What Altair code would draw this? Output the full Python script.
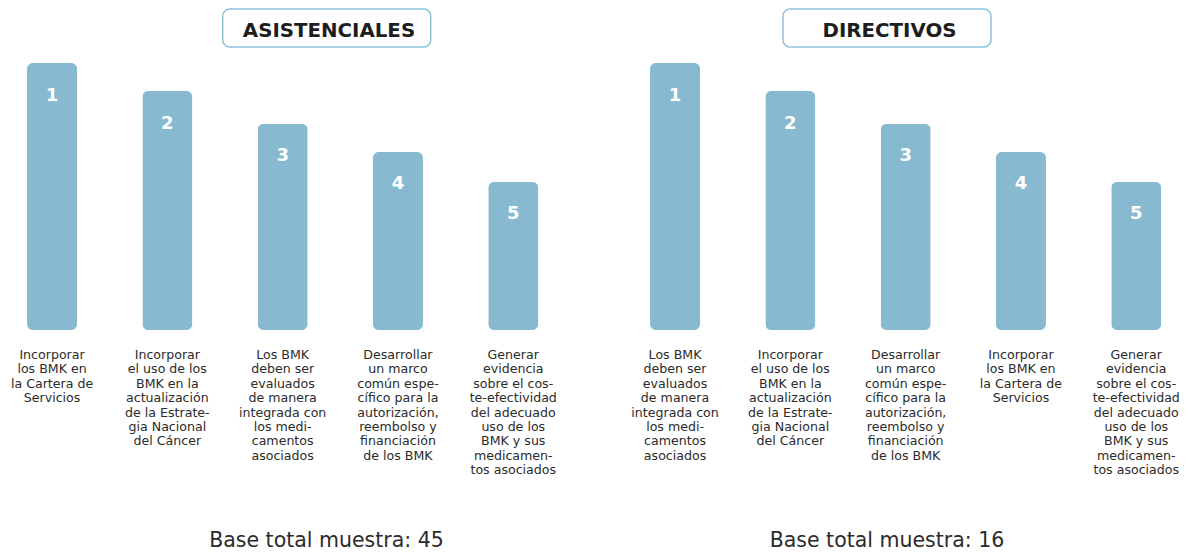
import altair as alt
import pandas as pd

# ---- data ----
ranks = ["1", "2", "3", "4", "5"]
values = [82.9, 74.2, 64.0, 55.3, 46.0]

asist_labels = [
    "Incorporar\nlos BMK en\nla Cartera de\nServicios",
    "Incorporar\nel uso de los\nBMK en la\nactualización\nde la Estrate-\ngia Nacional\ndel Cáncer",
    "Los BMK\ndeben ser\nevaluados\nde manera\nintegrada con\nlos medi-\ncamentos\nasociados",
    "Desarrollar\nun marco\ncomún espe-\ncífico para la\nautorización,\nreembolso y\nfinanciación\nde los BMK",
    "Generar\nevidencia\nsobre el cos-\nte-efectividad\ndel adecuado\nuso de los\nBMK y sus\nmedicamen-\ntos asociados",
]
direct_labels = [
    "Los BMK\ndeben ser\nevaluados\nde manera\nintegrada con\nlos medi-\ncamentos\nasociados",
    "Incorporar\nel uso de los\nBMK en la\nactualización\nde la Estrate-\ngia Nacional\ndel Cáncer",
    "Desarrollar\nun marco\ncomún espe-\ncífico para la\nautorización,\nreembolso y\nfinanciación\nde los BMK",
    "Incorporar\nlos BMK en\nla Cartera de\nServicios",
    "Generar\nevidencia\nsobre el cos-\nte-efectividad\ndel adecuado\nuso de los\nBMK y sus\nmedicamen-\ntos asociados",
]
titles = ["ASISTENCIALES", "DIRECTIVOS"]
base_n = [45, 16]

BAR = "#87B9D1"
BOX = "#8EC1DA"
TXT = "#2b2b2b"
FONT = "DejaVu Sans"
W = 549.3
H = 322


def panel(labels, title, n, box_x1, box_x2, title_cx, foot_cx):
    df = pd.DataFrame({"rank": ranks, "value": values, "label": labels})
    x = alt.X("rank:O", axis=None, sort=ranks,
              scale=alt.Scale(paddingInner=0.566, paddingOuter=0.165))
    y = alt.Y("value:Q", axis=None, scale=alt.Scale(domain=[0, 100], nice=False))
    base = alt.Chart(df)
    bars = base.mark_bar(color=BAR, cornerRadius=6).encode(x=x, y=y)
    nums = base.mark_text(color="white", fontSize=18, fontWeight="bold", font=FONT,
                          baseline="middle", dy=32.5).encode(x=x, y=y, text="rank:N")
    labs = base.mark_text(color=TXT, fontSize=12.6, font=FONT, baseline="top", align="center",
                          lineBreak="\n", lineHeight=14.4, dy=19).encode(
        x=x, y=alt.datum(0), text="label:N")
    tdf = pd.DataFrame({"t": [title], "f": [f"Base total muestra: {n}"]})
    tbase = alt.Chart(tdf)
    box = tbase.mark_rect(fill="white", stroke=BOX, strokeWidth=1.5, cornerRadius=7).encode(
        x=alt.value(box_x1), x2=alt.value(box_x2), y=alt.value(1), y2=alt.value(39))
    ttxt = tbase.mark_text(fontSize=19.8, fontWeight="bold", font=FONT, color="#1e1e1e",
                           baseline="middle").encode(
        x=alt.value(title_cx), y=alt.value(23), text="t:N")
    foot = tbase.mark_text(fontSize=20.5, font=FONT, color=TXT, baseline="middle").encode(
        x=alt.value(foot_cx), y=alt.value(533), text="f:N")
    return alt.layer(bars, nums, labs, box, ttxt, foot).properties(width=W, height=H)


p1 = panel(asist_labels, titles[0], base_n[0], 214.7, 422.7, 321, 318.5)
p2 = panel(direct_labels, titles[1], base_n[1], 152, 360, 258.5, 256)

chart = alt.hconcat(p1, p2, spacing=73).properties(
    padding={"left": 0, "top": 0, "right": 0, "bottom": 0}
).configure(font=FONT).configure_view(strokeWidth=0, stroke="transparent")

chart.save("out.html", embed_options={"renderer": "svg", "actions": False})
